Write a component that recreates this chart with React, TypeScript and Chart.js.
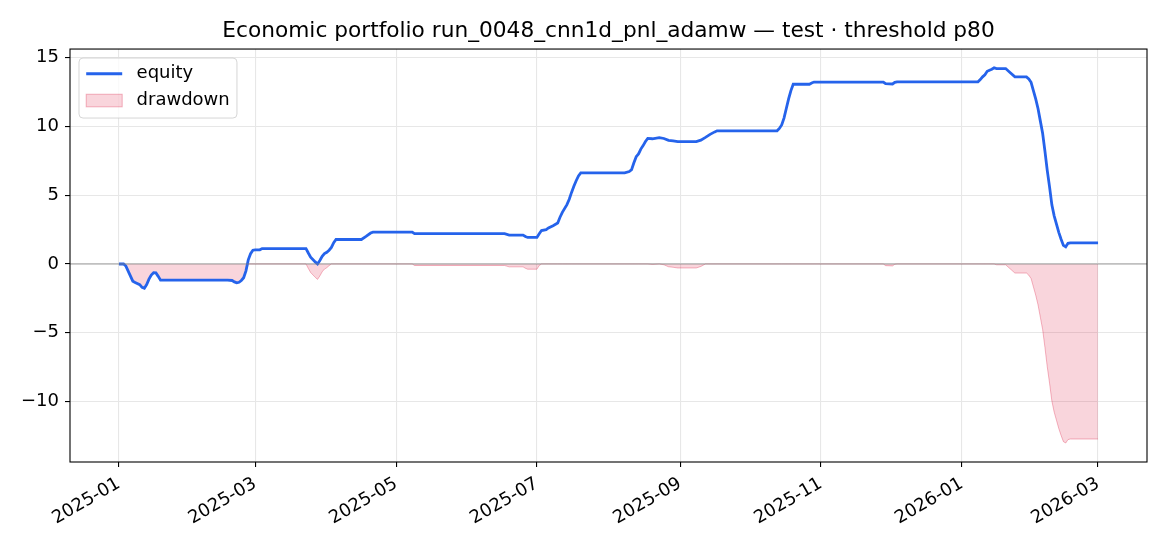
import React, { useEffect, useRef } from "react";
import { Chart, registerables } from "chart.js";

Chart.register(...registerables);

const title = "Economic portfolio run_0048_cnn1d_pnl_adamw — test · threshold p80";

// tick labels (month starts shown on the x axis) and y tick values
const xTickLabels = ["2025-01", "2025-03", "2025-05", "2025-07", "2025-09", "2025-11", "2026-01", "2026-03"];
const yTickValues = [-10, -5, 0, 5, 10, 15];

// observation dates
const dates = [
  "2025-01-01", "2025-01-03", "2025-01-04", "2025-01-07", "2025-01-08", "2025-01-10", "2025-01-11", "2025-01-12",
  "2025-01-13", "2025-01-14", "2025-01-15", "2025-01-16", "2025-01-17", "2025-01-18", "2025-01-19",
  "2025-02-17", "2025-02-19", "2025-02-20", "2025-02-21", "2025-02-22", "2025-02-23", "2025-02-24", "2025-02-25",
  "2025-02-26", "2025-02-27", "2025-02-28",
  "2025-03-01", "2025-03-03", "2025-03-04", "2025-03-23", "2025-03-24", "2025-03-25", "2025-03-27", "2025-03-28",
  "2025-03-29", "2025-03-30", "2025-03-31",
  "2025-04-01", "2025-04-02", "2025-04-03", "2025-04-04", "2025-04-05", "2025-04-16", "2025-04-18", "2025-04-20", "2025-04-21",
  "2025-05-08", "2025-05-09",
  "2025-06-17", "2025-06-19", "2025-06-25", "2025-06-26", "2025-06-27",
  "2025-07-01", "2025-07-02", "2025-07-03", "2025-07-05", "2025-07-06", "2025-07-08", "2025-07-10", "2025-07-11",
  "2025-07-12", "2025-07-14", "2025-07-15", "2025-07-16", "2025-07-17", "2025-07-18", "2025-07-19", "2025-07-20",
  "2025-08-08", "2025-08-10", "2025-08-11", "2025-08-12", "2025-08-13", "2025-08-14", "2025-08-15", "2025-08-16",
  "2025-08-17", "2025-08-18", "2025-08-20", "2025-08-23", "2025-08-25", "2025-08-27", "2025-08-29", "2025-08-31",
  "2025-09-08", "2025-09-10", "2025-09-12", "2025-09-14", "2025-09-16", "2025-09-17",
  "2025-10-13", "2025-10-14", "2025-10-15", "2025-10-16", "2025-10-17", "2025-10-18", "2025-10-19", "2025-10-20",
  "2025-10-27", "2025-10-28", "2025-10-29",
  "2025-11-28", "2025-11-29",
  "2025-12-02", "2025-12-03", "2025-12-04",
  "2026-01-08", "2026-01-09", "2026-01-10", "2026-01-11", "2026-01-12", "2026-01-13", "2026-01-14", "2026-01-15",
  "2026-01-16", "2026-01-20", "2026-01-22", "2026-01-24", "2026-01-29", "2026-01-30", "2026-01-31",
  "2026-02-01", "2026-02-02", "2026-02-03", "2026-02-04", "2026-02-05", "2026-02-06", "2026-02-07", "2026-02-08",
  "2026-02-09", "2026-02-10", "2026-02-11", "2026-02-12", "2026-02-13", "2026-02-14", "2026-02-15", "2026-02-16",
  "2026-02-17",
  "2026-03-01",
];

// cumulative pnl
const equity = [
  0, 0, -0.15, -1.25, -1.35, -1.5, -1.7, -1.76,
  -1.5, -1.1, -0.8, -0.63, -0.65, -0.9, -1.18,
  -1.18, -1.2, -1.3, -1.37, -1.33, -1.2, -1.0, -0.5,
  0.3, 0.75, 1.0,
  1.03, 1.03, 1.12, 1.12, 0.8, 0.5, 0.15, 0.0,
  0.25, 0.55, 0.75,
  0.85, 1.0, 1.2, 1.55, 1.78, 1.78, 2.0, 2.25, 2.31,
  2.31, 2.2,
  2.2, 2.1, 2.1, 2.0, 1.93,
  1.93, 2.2, 2.43, 2.5, 2.62, 2.78, 2.98, 3.4,
  3.75, 4.31, 4.7, 5.2, 5.65, 6.05, 6.4, 6.62,
  6.62, 6.72, 6.85, 7.35, 7.8, 8.0, 8.35, 8.6,
  8.9, 9.13, 9.1, 9.18, 9.12, 8.98, 8.94, 8.89,
  8.89, 9.0, 9.2, 9.42, 9.6, 9.68,
  9.68, 9.85, 10.1, 10.6, 11.3, 12.0, 12.6, 13.06,
  13.06, 13.15, 13.22,
  13.22, 13.1,
  13.08, 13.2, 13.24,
  13.24, 13.4, 13.6, 13.75, 14.0, 14.08, 14.15, 14.26,
  14.2, 14.2, 13.9, 13.6, 13.6, 13.45, 13.2,
  12.6, 12.0, 11.3, 10.4, 9.5, 8.2, 6.8, 5.6,
  4.3, 3.5, 2.9, 2.3, 1.8, 1.35, 1.25, 1.5,
  1.54,
  1.54,
];

// drawdown from running peak
const drawdown = [
  0, 0, -0.15, -1.25, -1.35, -1.5, -1.7, -1.76,
  -1.5, -1.1, -0.8, -0.63, -0.65, -0.9, -1.18,
  -1.18, -1.2, -1.3, -1.37, -1.33, -1.2, -1.0, -0.5,
  0, 0, 0,
  0, 0, 0, 0, -0.32, -0.62, -0.97, -1.12,
  -0.87, -0.57, -0.37,
  -0.27, -0.12, 0, 0, 0, 0, 0, 0, 0,
  0, -0.11,
  -0.11, -0.21, -0.21, -0.31, -0.38,
  -0.38, -0.11, 0, 0, 0, 0, 0, 0,
  0, 0, 0, 0, 0, 0, 0, 0,
  0, 0, 0, 0, 0, 0, 0, 0,
  0, 0, -0.03, 0, -0.06, -0.2, -0.24, -0.29,
  -0.29, -0.18, 0, 0, 0, 0,
  0, 0, 0, 0, 0, 0, 0, 0,
  0, 0, 0,
  0, -0.12,
  -0.14, -0.02, 0,
  0, 0, 0, 0, 0, 0, 0, 0,
  -0.06, -0.06, -0.36, -0.66, -0.66, -0.81, -1.06,
  -1.66, -2.26, -2.96, -3.86, -4.76, -6.06, -7.46, -8.66,
  -9.96, -10.76, -11.36, -11.96, -12.46, -12.91, -13.01, -12.76,
  -12.72,
  -12.72,
];

const T0 = Date.UTC(2025, 0, 1);
const dayOf = (s: string) => {
  const [y, m, d] = s.split("-").map(Number);
  return (Date.UTC(y, m - 1, d || 1) - T0) / 86400000;
};
const labelByDay: Record<number, string> = {};
xTickLabels.forEach((l) => (labelByDay[dayOf(l)] = l));

const FONT = "'DejaVu Sans', sans-serif";
const BLUE = "#2563eb";
const DD_FILL = "rgba(220,20,60,0.18)";
const DD_EDGE = "rgba(220,20,60,0.3)";
const GRID = "#e7e7e7";

// frame, zero line and the in-axes legend, matplotlib style
const decorPlugin = {
  id: "decor",
  afterDatasetsDraw(chart: any) {
    const { ctx, chartArea: a, scales } = chart;
    const y0 = scales.y.getPixelForValue(0);
    ctx.save();
    ctx.strokeStyle = "rgba(128,128,128,0.75)";
    ctx.lineWidth = 1.1;
    ctx.beginPath();
    ctx.moveTo(a.left, y0);
    ctx.lineTo(a.right, y0);
    ctx.stroke();
    ctx.restore();
  },
  afterDraw(chart: any) {
    const { ctx, chartArea: a } = chart;
    ctx.save();
    ctx.strokeStyle = "#000";
    ctx.lineWidth = 1.1;
    ctx.strokeRect(a.left, a.top, a.right - a.left, a.bottom - a.top);

    // legend
    ctx.font = `18px ${FONT}`;
    const bx = a.left + 9;
    const by = a.top + 9;
    const textW = Math.max(ctx.measureText("equity").width, ctx.measureText("drawdown").width);
    const bw = 7.2 + 36 + 14.4 + textW + 7.2;
    const bh = 60;
    const r = 4;
    ctx.beginPath();
    ctx.moveTo(bx + r, by);
    ctx.arcTo(bx + bw, by, bx + bw, by + bh, r);
    ctx.arcTo(bx + bw, by + bh, bx, by + bh, r);
    ctx.arcTo(bx, by + bh, bx, by, r);
    ctx.arcTo(bx, by, bx + bw, by, r);
    ctx.closePath();
    ctx.fillStyle = "rgba(255,255,255,0.8)";
    ctx.fill();
    ctx.strokeStyle = "rgba(204,204,204,0.8)";
    ctx.lineWidth = 1;
    ctx.stroke();

    const hx = bx + 7.2;
    const row1 = by + 15.7;
    const row2 = row1 + 26.8;
    ctx.strokeStyle = BLUE;
    ctx.lineWidth = 2.8;
    ctx.beginPath();
    ctx.moveTo(hx, row1);
    ctx.lineTo(hx + 36, row1);
    ctx.stroke();
    ctx.fillStyle = DD_FILL;
    ctx.fillRect(hx, row2 - 6.3, 36, 12.6);
    ctx.strokeStyle = DD_EDGE;
    ctx.lineWidth = 1;
    ctx.strokeRect(hx, row2 - 6.3, 36, 12.6);

    ctx.fillStyle = "#000";
    ctx.textBaseline = "middle";
    ctx.textAlign = "left";
    ctx.fillText("equity", hx + 36 + 14.4, row1);
    ctx.fillText("drawdown", hx + 36 + 14.4, row2);
    ctx.restore();
  },
};

const App: React.FC = () => {
  const canvasRef = useRef<HTMLCanvasElement>(null);
  const chartRef = useRef<Chart | null>(null);

  useEffect(() => {
    if (!canvasRef.current) return;
    Chart.defaults.font.family = FONT;
    Chart.defaults.color = "#000";

    const eqPts = dates.map((d, i) => ({ x: dayOf(d), y: equity[i] }));
    const ddPts = dates.map((d, i) => ({ x: dayOf(d), y: drawdown[i] }));

    chartRef.current = new Chart(canvasRef.current, {
      type: "line",
      data: {
        datasets: [
          {
            label: "equity",
            data: eqPts,
            borderColor: BLUE,
            borderWidth: 2.8,
            pointRadius: 0,
            tension: 0,
            fill: false,
            order: 0,
          },
          {
            label: "drawdown",
            data: ddPts,
            borderColor: DD_EDGE,
            backgroundColor: DD_FILL,
            borderWidth: 1,
            pointRadius: 0,
            tension: 0,
            fill: "origin",
            order: 1,
          },
        ],
      },
      options: {
        animation: false,
        responsive: true,
        maintainAspectRatio: false,
        layout: { padding: { left: 0, right: 23, top: 0, bottom: 0 } },
        plugins: {
          legend: { display: false },
          tooltip: { enabled: false },
          title: {
            display: true,
            text: title,
            fullSize: false,
            color: "#000",
            font: { size: 21.7, weight: "normal", family: FONT },
            padding: { top: 18, bottom: 5 },
          },
        },
        scales: {
          x: {
            type: "linear",
            min: -21.2,
            max: 445.2,
            afterBuildTicks: (s: any) => {
              s.ticks = xTickLabels.map((l) => ({ value: dayOf(l) }));
            },
            afterFit: (s: any) => {
              s.height = 84;
            },
            ticks: {
              autoSkip: false,
              minRotation: 30,
              maxRotation: 30,
              padding: 6,
              font: { size: 18 },
              callback: (v: any) => labelByDay[v as number] ?? "",
            },
            grid: { color: GRID, lineWidth: 1.1, tickLength: 5, tickColor: "#000", tickWidth: 1.1 },
            border: { display: false },
          },
          y: {
            type: "linear",
            min: -14.39,
            max: 15.62,
            afterBuildTicks: (s: any) => {
              s.ticks = yTickValues.map((v) => ({ value: v }));
            },
            afterFit: (s: any) => {
              s.width = 70;
            },
            ticks: {
              padding: 6,
              font: { size: 18 },
              callback: (v: any) => String(v).replace("-", "\u2212"),
            },
            grid: { color: GRID, lineWidth: 1.1, tickLength: 5, tickColor: "#000", tickWidth: 1.1 },
            border: { display: false },
          },
        },
      },
      plugins: [decorPlugin],
    });

    return () => {
      chartRef.current?.destroy();
      chartRef.current = null;
    };
  }, []);

  return (
    <div style={{ position: "fixed", left: 0, top: 0, width: 1170, height: 546, background: "#fff" }}>
      <canvas ref={canvasRef}></canvas>
    </div>
  );
};

export default App;
